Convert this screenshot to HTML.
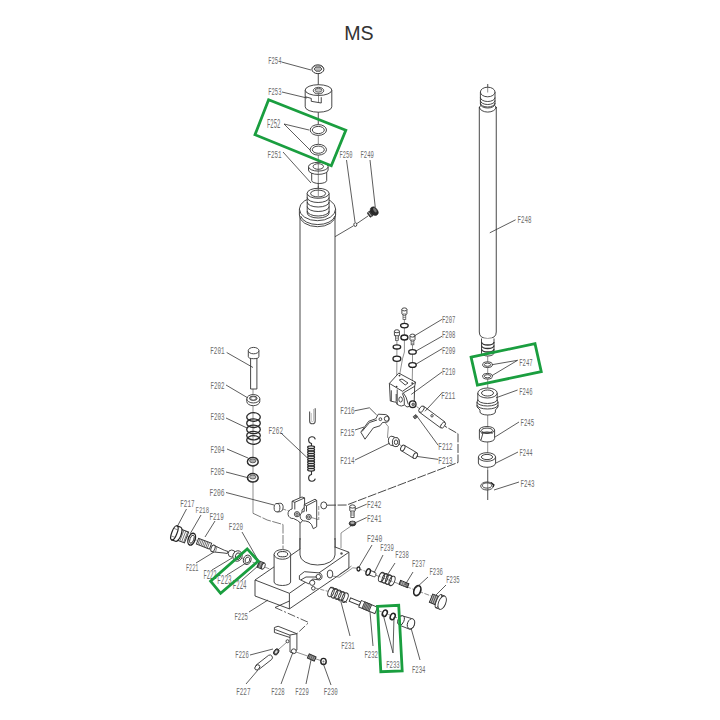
<!DOCTYPE html>
<html><head><meta charset="utf-8"><style>
html,body{margin:0;padding:0;background:#fff;}
svg{display:block;}
.lb{font-family:"Liberation Mono",monospace;fill:#6c6c6c;}
.ld{fill:none;stroke:#333;stroke-width:0.8;}
.gr{fill:none;stroke:#1a9e3f;stroke-width:2.8;stroke-linejoin:miter;}
.p{fill:#fff;stroke:#333;stroke-width:0.9;}
.pn{fill:none;stroke:#333;stroke-width:0.9;}
.th{fill:none;stroke:#444;stroke-width:0.6;}
.ds{fill:none;stroke:#333;stroke-width:0.8;stroke-dasharray:8 2 2 2;}
.ds2{fill:none;stroke:#333;stroke-width:0.9;stroke-dasharray:9 1.6;}
</style></head><body>
<svg width="720" height="720" viewBox="0 0 720 720">
<text x="344.2" y="40.3" font-size="19.6" class="ms" style="font-family:'Liberation Sans',sans-serif;fill:#333;">MS</text>
<!-- ===== center axis lines (top stack) ===== -->
<line x1="318.3" y1="70" x2="318.3" y2="200" class="th"/>
<!-- F254 nut -->
<ellipse cx="317.9" cy="69.25" rx="6" ry="4.4" fill="#fff" stroke="#333" stroke-width="1"/>
<path d="M312.6,68.2 A5.4,3 0 0 1 323.2,68.2" fill="none" stroke="#555" stroke-width="0.6"/>
<path d="M314,69 L316,67 L320,67 L322,69 L320,71.2 L316,71.2 Z" fill="#bbb" stroke="#333" stroke-width="0.8"/>
<line x1="318.3" y1="73.5" x2="318.3" y2="86" class="th"/>
<!-- F253 cylinder -->
<path d="M305.2,90.1 L305.2,106.8 A13.3,5.4 0 0 0 331.8,106.8 L331.8,90.1" class="p"/>
<ellipse cx="318.5" cy="90.1" rx="13.3" ry="5.4" class="p"/>
<ellipse cx="318.5" cy="90.6" rx="5.2" ry="3.3" class="p" stroke-width="1"/>
<ellipse cx="318.5" cy="90.3" rx="3.4" ry="1.9" fill="#ccc" stroke="#444" stroke-width="0.8"/>
<path d="M305.4,96.75 L311.25,98.4 L311.25,101.3 L321.25,103 L321.25,97.2" class="pn"/>
<line x1="318.5" y1="93" x2="318.5" y2="102.5" class="th"/>
<line x1="318.3" y1="112" x2="318.3" y2="124" class="th"/>
<!-- F252 rings -->
<ellipse cx="318.3" cy="130" rx="8.2" ry="5.4" class="p"/>
<ellipse cx="318.3" cy="130" rx="6" ry="3.6" class="pn"/>
<ellipse cx="318.3" cy="149.7" rx="8.2" ry="5.4" class="p"/>
<ellipse cx="318.3" cy="149.7" rx="6" ry="3.6" class="pn"/>
<!-- F251 bushing -->
<path d="M311.7,171 L311.7,180.5 A7.5,3 0 0 0 326.7,180.5 L326.7,171" class="p"/>
<path d="M308.5,166.7 L308.5,170 A9.8,4.4 0 0 0 328.1,170 L328.1,166.7" class="p"/>
<ellipse cx="318.3" cy="166.7" rx="9.8" ry="4.4" class="p"/>
<ellipse cx="318.3" cy="166.5" rx="5.2" ry="2.8" class="pn"/>
<line x1="318.3" y1="160" x2="318.3" y2="196" class="th"/>
<!-- ===== main column ===== -->
<path d="M300,212 L300,555 A17.5,10 0 0 0 335,555 L335,212" class="p"/>
<!-- flange -->
<path d="M299.4,209 L299.4,215 A18.1,11.7 0 0 0 335.6,215 L335.6,209" class="p"/>
<ellipse cx="317.5" cy="209" rx="18.1" ry="11.7" class="p"/>
<path d="M300.6,216 A17.5,10.5 0 0 0 335,216" class="pn"/>
<!-- threaded neck -->
<path d="M307.2,193.3 L307.2,213 A10.95,5 0 0 0 329.1,213 L329.1,193.3" class="p"/>
<path d="M307.2,197.5 A10.95,5 0 0 0 329.1,197.5" class="pn"/>
<path d="M307.2,202 A10.95,5 0 0 0 329.1,202" class="pn"/>
<path d="M307.2,206.5 A10.95,5 0 0 0 329.1,206.5" class="pn"/>
<path d="M307.2,211 A10.95,5 0 0 0 329.1,211" class="pn"/>
<ellipse cx="318.1" cy="193.3" rx="10.95" ry="5" class="p"/>
<ellipse cx="318.1" cy="193.5" rx="7.5" ry="3.4" class="pn"/>
<line x1="318.3" y1="186" x2="318.3" y2="196" class="th"/>
<!-- F250 / F249 -->
<polyline points="335,236.7 353.5,225.8" class="ld"/>
<ellipse cx="355.3" cy="224.6" rx="1.5" ry="1.9" class="p"/>
<polyline points="357,223.5 368,216" class="ld"/>
<g transform="rotate(-35 373 212)">
<rect x="367.6" y="209.3" width="4.6" height="5.6" rx="1" fill="#3a3a3a" stroke="#222" stroke-width="0.6"/>
<line x1="369.2" y1="209.6" x2="369.2" y2="214.6" stroke="#ddd" stroke-width="0.7"/>
<ellipse cx="374.6" cy="212" rx="3.2" ry="4.7" fill="#2a2a2a" stroke="#222" stroke-width="0.6"/>
<ellipse cx="375.6" cy="211.5" rx="1.3" ry="2.6" fill="#777" stroke="none"/>
</g>
<!-- ===== rod F248 ===== -->
<line x1="487.7" y1="84" x2="487.7" y2="500" class="th"/>
<path d="M479.3,107 L479.3,332 Q479.3,338.5 487.7,338.5 Q496.25,338.5 496.25,332 L496.25,107" class="p"/>
<path d="M479.3,107 A8.5,5.5 0 0 0 496.25,107" class="pn"/>
<path d="M479.3,108 A8.5,5.5 0 0 1 496.25,108" class="pn"/>
<path d="M480.4,92 L480.4,104 A7.3,4 0 0 0 495,104 L495,92" class="p"/>
<path d="M480.4,97.5 A7.3,4 0 0 0 495,97.5" class="pn"/>
<path d="M480.4,100.5 A7.3,4 0 0 0 495,100.5" class="pn"/>
<path d="M480.4,103 A7.3,4 0 0 0 495,103" class="pn"/>
<ellipse cx="487.7" cy="92" rx="7.3" ry="4.8" class="p"/>
<line x1="487.7" y1="84" x2="487.7" y2="92.5" class="th"/>
<!-- neck below rod -->
<path d="M481.5,338.5 L481.5,353 A6.25,3 0 0 0 494,353 L494,338.5" class="p"/>
<path d="M481.5,342 A6.25,3 0 0 0 494,342" fill="none" stroke="#333" stroke-width="1.3"/>
<path d="M481.5,345.5 A6.25,3 0 0 0 494,345.5" fill="none" stroke="#333" stroke-width="1.3"/>
<path d="M481.5,349 A6.25,3 0 0 0 494,349" fill="none" stroke="#333" stroke-width="1.3"/>

<!-- F247 rings -->
<ellipse cx="487.5" cy="364.7" rx="4.9" ry="2.8" class="p" stroke-width="1.2"/>
<ellipse cx="487.5" cy="364.7" rx="3.2" ry="1.6" class="pn"/>
<ellipse cx="487.5" cy="376.25" rx="4.9" ry="2.8" class="p" stroke-width="1.2"/>
<ellipse cx="487.5" cy="376.25" rx="3.2" ry="1.6" class="pn"/>
<!-- F246 -->
<path d="M477.8,393 L477.8,400 L477,402 L477,407 L480,410 L480,412 A7.7,3 0 0 0 495.4,412 L495.4,410 L498,407 L498,402 L497.2,400 L497.2,393" class="p"/>
<path d="M477,402 A10.5,4 0 0 0 498,402" class="pn"/>
<path d="M477,405 A10.5,4 0 0 0 498,405" class="pn"/>
<path d="M477.8,399.5 A9.7,4 0 0 0 497.2,399.5" class="pn"/>
<ellipse cx="487.5" cy="393" rx="9.7" ry="5" class="p"/>
<ellipse cx="487.5" cy="393" rx="6" ry="3" class="pn"/>
<!-- F245 -->
<path d="M479.4,430 L479.4,438.5 A7.6,3.5 0 0 0 494.6,438.5 L494.6,430" class="p"/>
<ellipse cx="487" cy="430" rx="7.6" ry="3.5" class="p"/>
<ellipse cx="487" cy="430.5" rx="5.6" ry="2.4" class="pn" stroke-width="0.8"/>
<path d="M481.5,433.5 A6,2.6 0 0 1 492.5,433.5" class="pn"/>
<line x1="483" y1="433" x2="481" y2="440" class="pn"/>
<!-- F244 -->
<path d="M478.4,457 L478.4,463 A8.6,4.3 0 0 0 495.6,463 L495.6,457" class="p"/>
<ellipse cx="487" cy="457" rx="8.6" ry="4.3" class="p"/>
<ellipse cx="487" cy="457" rx="5.6" ry="2.6" class="pn"/>
<!-- F243 snap ring -->
<ellipse cx="487" cy="486" rx="6.3" ry="4" class="p" stroke-width="1.6"/>
<path d="M491,482.5 L494,485 L493,487" fill="none" stroke="#222" stroke-width="1.2"/>
<ellipse cx="487" cy="485.5" rx="4.5" ry="2.6" class="pn"/>
<line x1="487.7" y1="470" x2="487.7" y2="500" class="th"/>
<!-- ===== left stack F201-F206 ===== -->
<line x1="253" y1="356" x2="253" y2="513.3" class="th"/>
<polyline points="253,513.3 267.2,520 283,524.5" fill="none" stroke="#444" stroke-width="0.7" stroke-dasharray="9 1.5"/>
<line x1="283" y1="524.5" x2="283" y2="549" stroke="#444" stroke-width="0.7" stroke-dasharray="9 1.5"/>
<!-- F201 pin -->
<path d="M250.6,357 L250.6,389 L256.9,389 L256.9,357" class="p"/>
<path d="M248.3,350.6 L248.3,356.5 A5.3,2.2 0 0 0 258.9,356.5 L258.9,350.6" class="p"/>
<ellipse cx="253.6" cy="350.6" rx="5.3" ry="3.2" class="p"/>
<!-- F202 washer -->
<path d="M246.8,398.75 L246.8,401.5 A6.5,4.2 0 0 0 259.8,401.5 L259.8,398.75" class="p"/>
<ellipse cx="253.3" cy="398.75" rx="6.5" ry="4.2" class="p"/>
<ellipse cx="253.3" cy="398.3" rx="3.8" ry="2.2" fill="#999" stroke="#333" stroke-width="0.8"/>
<ellipse cx="253.3" cy="398.3" rx="2" ry="1.1" fill="#fff" stroke="none"/>
<!-- F203 spring -->
<g fill="none" stroke="#2a2a2a" stroke-width="1.3">
<ellipse cx="253.5" cy="417" rx="6.8" ry="4.3"/>
<ellipse cx="253.5" cy="423.2" rx="6.8" ry="4.3"/>
<ellipse cx="253.5" cy="429.4" rx="6.8" ry="4.3"/>
<ellipse cx="253.5" cy="435.6" rx="6.8" ry="4.3"/>
<ellipse cx="253.5" cy="440" rx="6.8" ry="4.3"/>
</g>
<!-- F204/F205 nuts -->
<ellipse cx="252.8" cy="461.7" rx="5.4" ry="4.3" fill="#fff" stroke="#2a2a2a" stroke-width="1.4"/>
<ellipse cx="252.8" cy="460.8" rx="3.2" ry="2" fill="#aaa" stroke="#333" stroke-width="0.7"/>
<path d="M247.6,462.5 A5.2,3 0 0 0 258,462.5" fill="none" stroke="#333" stroke-width="0.7"/>
<ellipse cx="252.8" cy="477.8" rx="5.4" ry="4.3" fill="#fff" stroke="#2a2a2a" stroke-width="1.4"/>
<ellipse cx="252.8" cy="477" rx="3.2" ry="2" fill="#bbb" stroke="#333" stroke-width="0.7"/>
<path d="M247.6,478.6 A5.2,3 0 0 0 258,478.6" fill="none" stroke="#333" stroke-width="0.7"/>
<!-- F206 -->
<path d="M276.5,503.6 L279.5,503.3 A3.2,4.2 0 0 1 280.5,511.6 L277.5,512 Z" class="p"/>
<ellipse cx="277" cy="507.7" rx="2.9" ry="4.2" class="p" stroke-width="1"/>
<line x1="283.3" y1="509.2" x2="290" y2="511.25" class="th" stroke-dasharray="3 1.5"/>
<!-- ===== F262 spring & hairpin ===== -->
<path d="M309.6,411.5 L309.6,421 A2.8,2.8 0 0 0 315.2,421 L315.2,408.2" fill="none" stroke="#555" stroke-width="1.1"/>
<path d="M311.3,413 L311.3,420.5 A1.1,1.1 0 0 0 313.5,420.5 L313.5,409" fill="none" stroke="#999" stroke-width="0.6"/>
<path d="M311.5,446 L311.5,443.5 A3.4,3.4 0 1 1 315.3,439.3" fill="none" stroke="#333" stroke-width="1.1"/>
<path d="M311.5,471 L311.5,474.5 A3.4,3.4 0 1 0 315.3,478.7" fill="none" stroke="#333" stroke-width="1.1"/>
<g fill="none" stroke="#2a2a2a" stroke-width="1.15">
<ellipse cx="311.1" cy="447.3" rx="3.5" ry="1.4"/>
<ellipse cx="311.1" cy="449.8" rx="3.5" ry="1.4"/>
<ellipse cx="311.1" cy="452.3" rx="3.5" ry="1.4"/>
<ellipse cx="311.1" cy="454.8" rx="3.5" ry="1.4"/>
<ellipse cx="311.1" cy="457.3" rx="3.5" ry="1.4"/>
<ellipse cx="311.1" cy="459.8" rx="3.5" ry="1.4"/>
<ellipse cx="311.1" cy="462.3" rx="3.5" ry="1.4"/>
<ellipse cx="311.1" cy="464.8" rx="3.5" ry="1.4"/>
<ellipse cx="311.1" cy="467.3" rx="3.5" ry="1.4"/>
<ellipse cx="311.1" cy="469.8" rx="3.5" ry="1.4"/>
</g>
<!-- ===== bracket F242 on column ===== -->
<g class="p" stroke-width="0.85">
<path d="M292.1,501.25 L302,497 L304.6,497.9 L304.6,507 L302,510 L302,516 L303.5,519.5 L300.5,523 L297.5,520.5 L293.5,518.5 A4.5,4.5 0 0 1 292.1,509 Z"/>
<path d="M292.1,501.25 L294.8,502.3 L304.6,497.9 M294.8,502.3 L294.8,509.5" fill="none"/>
<circle cx="297" cy="514.2" r="2.6"/>
<circle cx="297" cy="514.2" r="1.2" fill="none"/>
<path d="M304.2,504.6 L315,499.2 L316.7,500.4 L316.7,526.7 L313.3,528.75 L311.5,524.5 L309,522 L305.5,521 A4.5,4.5 0 0 1 304.2,511.5 Z"/>
<path d="M304.2,504.6 L306.5,505.8 L316.7,500.4 M306.5,505.8 L306.5,511.5" fill="none"/>
<circle cx="308.75" cy="517" r="2.6"/>
<circle cx="308.75" cy="517" r="1.2" fill="none"/>
</g>
<line x1="311.5" y1="517.5" x2="318" y2="519.5" class="th"/>
<polyline points="318.75,506 318.75,520" class="th" stroke-dasharray="4 1.5"/>
<ellipse cx="323.75" cy="505.4" rx="3" ry="3.5" class="p" stroke-width="1.1"/>
<polyline points="327,505.2 346.7,505 458,462.5 458,433.75 444.5,426" class="ds2"/>
<!-- ===== base block ===== -->
<path d="M255,580 L300.6,548.6 L335,547 L348.9,552.2 L348.9,568.3 L289.4,608.9 L255,596 Z" class="p"/>
<polyline points="255,580 289.4,593.3 348.9,552.2" class="pn"/>
<line x1="289.4" y1="593.3" x2="289.4" y2="608.9" class="pn"/>
<!-- column bottom redraw over block -->
<rect x="300.5" y="540" width="34" height="16" fill="#fff"/>
<path d="M300,538 L300,555 A17.5,10 0 0 0 335,555 L335,538" class="pn"/>
<circle cx="341.5" cy="553.5" r="1.2" fill="#555"/>
<!-- F241 line down -->
<polyline points="352.5,525 341,533 341,548" class="th"/>
<!-- bushing on block -->
<path d="M274.1,554.4 L274.1,582 A8.25,3.5 0 0 0 290.6,582 L290.6,554.4" class="p"/>
<ellipse cx="282.4" cy="554.4" rx="8.3" ry="4.85" class="p"/>
<ellipse cx="282.6" cy="554.2" rx="5.1" ry="2.65" fill="none" stroke="#333" stroke-width="1"/>
<!-- hole on right face -->
<ellipse cx="330" cy="574" rx="2.8" ry="4" class="p"/>
<polyline points="332.8,576.1 339.4,577.2 352.8,567.8 357.8,568.3" class="th"/>
<polyline points="339.4,574.5 351.5,566" class="th"/>
<!-- lever on block -->
<g class="p" stroke-width="0.85">
<path d="M299.4,575.6 L304.4,571.7 L318.3,572.8 A3.8,3.8 0 0 1 320,580 L312.5,579 L308.9,583.9 L299.4,579.4 Z"/>
<circle cx="318.3" cy="576.7" r="2.3"/>
<circle cx="312.2" cy="582.8" r="2.6"/>
<circle cx="313.3" cy="588.3" r="1.8"/>
</g>
<polyline points="301,579.8 306,577 317,577" class="pn" stroke-width="0.6"/>
<!-- F231 spring + axis -->
<line x1="315" y1="588" x2="328" y2="591.3" class="th" stroke-dasharray="4 1.5"/>
<g class="pn" stroke-width="1">
<ellipse cx="331" cy="592" rx="2.8" ry="5" transform="rotate(22 331 592)"/>
<ellipse cx="334.5" cy="593.4" rx="2.8" ry="5" transform="rotate(22 334.5 593.4)"/>
<ellipse cx="338" cy="594.8" rx="2.8" ry="5" transform="rotate(22 338 594.8)"/>
<ellipse cx="341.5" cy="596.2" rx="2.8" ry="5" transform="rotate(22 341.5 596.2)"/>
<ellipse cx="345" cy="597.6" rx="2.8" ry="5" transform="rotate(22 345 597.6)"/>
</g>
<polyline points="330,587.2 344,592.8" class="pn" stroke-width="0.6"/>
<polyline points="333,597 347,602.4" class="pn" stroke-width="0.6"/>
<!-- F232 shaft -->
<g transform="rotate(22.5 349.9 599.5)">
<rect x="349.9" y="597.7" width="11" height="3.6" class="p"/>
<rect x="360.9" y="596" width="17.5" height="7" class="p"/>
<rect x="364.5" y="596" width="7.5" height="7" fill="#aaa" stroke="#333" stroke-width="0.8"/>
<line x1="366" y1="596" x2="366" y2="603" stroke="#333" stroke-width="0.6"/>
<line x1="367.5" y1="596" x2="367.5" y2="603" stroke="#333" stroke-width="0.6"/>
<line x1="369" y1="596" x2="369" y2="603" stroke="#333" stroke-width="0.6"/>
<line x1="370.5" y1="596" x2="370.5" y2="603" stroke="#333" stroke-width="0.6"/>
</g>
<line x1="378" y1="610.5" x2="403" y2="620" class="th" stroke-dasharray="4 1.5"/>
<!-- F233 rings -->
<ellipse cx="384.8" cy="613.2" rx="2.3" ry="3.3" fill="#fff" stroke="#222" stroke-width="1.5" transform="rotate(25 384.8 613.2)"/>
<ellipse cx="392.7" cy="616.5" rx="2.3" ry="3.3" fill="#fff" stroke="#222" stroke-width="1.5" transform="rotate(25 392.7 616.5)"/>
<!-- F234 cap -->
<path d="M401,615.5 L411.5,618.5 A4,5.5 0 0 1 409,629 L399,625 Z" class="p" />
<ellipse cx="401" cy="620.3" rx="3" ry="4.8" class="p" transform="rotate(20 401 620.3)"/>
<ellipse cx="411" cy="623.8" rx="3.5" ry="5.3" class="p" transform="rotate(20 411 623.8)"/>
<!-- right upper valve axis F240-F235 -->
<line x1="357.5" y1="568.3" x2="432" y2="596.3" class="th" stroke-dasharray="5 1.5"/>
<ellipse cx="358.5" cy="569" rx="1.5" ry="2" fill="#fff" stroke="#222" stroke-width="1.3"/>
<!-- F239 valve -->
<path d="M369,570 L375,572.2 A1.6,2.4 0 0 1 373.5,576.6 L368,574.5 Z" class="p"/>
<ellipse cx="368.2" cy="572" rx="2" ry="3.4" fill="#fff" stroke="#222" stroke-width="1.4" transform="rotate(20 368.2 572)"/>
<!-- F238 spring -->
<g class="pn" stroke-width="1">
<ellipse cx="381.5" cy="577" rx="2.6" ry="5" transform="rotate(22 381.5 577)"/>
<ellipse cx="385" cy="578.3" rx="2.6" ry="5" transform="rotate(22 385 578.3)"/>
<ellipse cx="388.5" cy="579.6" rx="2.6" ry="5" transform="rotate(22 388.5 579.6)"/>
<ellipse cx="392" cy="580.9" rx="2.6" ry="5" transform="rotate(22 392 580.9)"/>
</g>
<polyline points="381,572.5 393,576.5" class="pn" stroke-width="0.6"/>
<polyline points="380,581.5 391,585.5" class="pn" stroke-width="0.6"/>
<!-- F237 small spring -->
<g transform="rotate(22 404 584)">
<rect x="399.5" y="582" width="9" height="4" fill="#777" stroke="#222" stroke-width="0.9"/>
<line x1="401.5" y1="582" x2="401.5" y2="586" stroke="#ddd" stroke-width="0.5"/>
<line x1="403.5" y1="582" x2="403.5" y2="586" stroke="#ddd" stroke-width="0.5"/>
<line x1="405.5" y1="582" x2="405.5" y2="586" stroke="#ddd" stroke-width="0.5"/>
</g>
<!-- F236 washer -->
<ellipse cx="417.3" cy="590.6" rx="3.3" ry="5.2" fill="#fff" stroke="#222" stroke-width="1.7" transform="rotate(20 417.3 590.6)"/>

<!-- F235 plug -->
<g transform="rotate(22 438 601)">
<rect x="430.5" y="596.5" width="8" height="9" fill="#bbb" stroke="#222" stroke-width="0.9"/>
<line x1="432.3" y1="596.5" x2="432.3" y2="605.5" stroke="#333" stroke-width="0.7"/>
<line x1="434.2" y1="596.5" x2="434.2" y2="605.5" stroke="#333" stroke-width="0.7"/>
<line x1="436.1" y1="596.5" x2="436.1" y2="605.5" stroke="#333" stroke-width="0.7"/>
<path d="M438.5,594 L442.5,594 L442.5,608 L438.5,608 Z" class="p" stroke-width="0.9"/>
<ellipse cx="438.5" cy="601" rx="2" ry="7" class="p" stroke-width="0.9"/>
<ellipse cx="442.5" cy="601" rx="3.6" ry="7" class="p" stroke-width="1"/>
</g>
<!-- ===== left valve group F217-F224 ===== -->
<line x1="186" y1="536" x2="271" y2="569.5" class="th" stroke-dasharray="5 1.5"/>
<g transform="translate(1,2) rotate(21 179 533)">
<rect x="177" y="527.2" width="9" height="11.6" fill="#fff" stroke="#333" stroke-width="1"/>
<line x1="179" y1="527.2" x2="179" y2="538.8" stroke="#555" stroke-width="0.7"/>
<line x1="181" y1="527.2" x2="181" y2="538.8" stroke="#555" stroke-width="0.7"/>
<line x1="183" y1="527.2" x2="183" y2="538.8" stroke="#555" stroke-width="0.7"/>
<line x1="185" y1="527.2" x2="185" y2="538.8" stroke="#555" stroke-width="0.7"/>
<path d="M173,525.5 L177,525.5 A3,7.5 0 0 1 177,540.5 L173,540.5 Z" fill="#fff" stroke="#222" stroke-width="1.2"/>
<ellipse cx="173" cy="533" rx="2.6" ry="7.5" fill="#fff" stroke="#222" stroke-width="1.2"/>
<line x1="171" y1="529" x2="175.5" y2="529" stroke="#555" stroke-width="0.6"/>
<line x1="171" y1="537" x2="175.5" y2="537" stroke="#555" stroke-width="0.6"/>
</g>
<ellipse cx="191.7" cy="539.2" rx="3.4" ry="6.2" fill="#fff" stroke="#222" stroke-width="1.4" transform="rotate(20 191.7 539.2)"/>
<ellipse cx="191.9" cy="539.2" rx="1.9" ry="4.3" class="pn" stroke-width="0.7" transform="rotate(20 191.9 539.2)"/>
<g transform="rotate(21 204 543.7)">
<rect x="197" y="540.6" width="14" height="6.2" fill="#fff" stroke="#333" stroke-width="0.9"/>
<line x1="198.5" y1="540.6" x2="198.5" y2="546.8" stroke="#444" stroke-width="0.7"/>
<line x1="200.2" y1="540.6" x2="200.2" y2="546.8" stroke="#444" stroke-width="0.7"/>
<line x1="201.9" y1="540.6" x2="201.9" y2="546.8" stroke="#444" stroke-width="0.7"/>
<line x1="203.6" y1="540.6" x2="203.6" y2="546.8" stroke="#444" stroke-width="0.7"/>
<line x1="205.3" y1="540.6" x2="205.3" y2="546.8" stroke="#444" stroke-width="0.7"/>
<line x1="207" y1="540.6" x2="207" y2="546.8" stroke="#444" stroke-width="0.7"/>
<line x1="208.7" y1="540.6" x2="208.7" y2="546.8" stroke="#444" stroke-width="0.7"/>
</g>
<!-- F221 valve -->
<path d="M213,545 L224.5,550.3 L228,551.5 L227.3,553.5 L224,553 L212,551.8 Z" class="p" stroke-width="0.85"/>
<ellipse cx="213" cy="548.4" rx="1.9" ry="3.5" class="p" stroke-width="1" transform="rotate(22 213 548.4)"/>
<line x1="217" y1="546.5" x2="215.5" y2="552" class="th"/>
<!-- F222 -->
<circle cx="231.7" cy="553.5" r="3.5" class="p"/>
<ellipse cx="237.5" cy="556" rx="4.6" ry="5.3" class="p" transform="rotate(20 237.5 556)"/>
<ellipse cx="238" cy="556.2" rx="2.6" ry="3.4" class="pn" transform="rotate(20 238 556.2)"/>
<!-- F223 -->
<ellipse cx="247.2" cy="559.8" rx="3.8" ry="4.8" class="p" stroke-width="1.1" transform="rotate(20 247.2 559.8)"/>
<ellipse cx="247.4" cy="560" rx="2.2" ry="3" class="pn" transform="rotate(20 247.4 560)"/>
<!-- F224 nut -->
<g transform="rotate(22 260.8 565.1)">
<rect x="258" y="561.8" width="5.6" height="6.6" fill="#666" stroke="#222" stroke-width="0.8"/>
<line x1="260.2" y1="561.8" x2="260.2" y2="568.4" stroke="#ddd" stroke-width="0.5"/>
<ellipse cx="263.6" cy="565.1" rx="1.5" ry="3.3" fill="#fff" stroke="#222" stroke-width="0.8"/>
</g>
<!-- ===== lower bracket F226-F230 ===== -->
<polyline points="289.4,601 275,607.5" class="pn"/>
<polyline points="275,607.5 308.75,622.5 296.9,633.75" class="ds"/>
<path d="M274.4,627.5 L278.1,626.25 L296.9,633.75 L296.9,650 L293,653 L290,652 L290,637.5 L276,633 L274.4,632.5 Z" class="p"/>
<polyline points="275.2,629.5 290,635.2 290,637.5" class="pn" stroke-width="0.7"/>
<line x1="290" y1="635" x2="296.9" y2="633.75" class="pn" stroke-width="0.7"/>
<circle cx="287.5" cy="641.25" r="1.5" class="pn" stroke-width="0.7"/>
<circle cx="293.75" cy="651.25" r="2.4" class="p" stroke-width="0.9"/>
<line x1="279" y1="649" x2="287" y2="642" class="th"/>
<ellipse cx="276.25" cy="651.9" rx="2.3" ry="3.4" fill="#555" stroke="#222" stroke-width="0.8" transform="rotate(35 276.25 651.9)"/>
<ellipse cx="276.25" cy="651.9" rx="1" ry="1.8" fill="#ddd" stroke="none" transform="rotate(35 276.25 651.9)"/>
<!-- F227 pin -->
<path d="M255.8,665.3 L268.6,655.3 A2.6,2.6 0 0 1 271.6,659.5 L258.8,669.5 Z" class="p"/>
<ellipse cx="257.3" cy="667.4" rx="2.1" ry="2.9" class="p" transform="rotate(40 257.3 667.4)"/>
<!-- F229 screw & F230 nut -->
<line x1="296" y1="652" x2="322" y2="661" class="th"/>
<g transform="rotate(24 311.7 657.5)">
<rect x="308" y="655.2" width="7.5" height="4.6" fill="#999" stroke="#222" stroke-width="0.9"/>
<line x1="309.5" y1="654.8" x2="309.5" y2="660.2" class="th"/>
<line x1="311.5" y1="654.8" x2="311.5" y2="660.2" class="th"/>
<line x1="313.5" y1="654.8" x2="313.5" y2="660.2" class="th"/>
</g>
<ellipse cx="323.5" cy="661.5" rx="2.7" ry="3.1" fill="#fff" stroke="#222" stroke-width="1.4"/>
<circle cx="323.5" cy="661.5" r="1" fill="#777"/>
<!-- F242 bolt, F241 nut -->
<path d="M349.8,506.5 L349.8,510.5 A2.7,1.2 0 0 0 355.2,510.5 L355.2,506.5" class="p"/>
<ellipse cx="352.5" cy="506.5" rx="2.7" ry="1.6" class="p"/>
<rect x="350.9" y="511" width="3.2" height="6.5" fill="#fff" stroke="#333" stroke-width="0.8"/>
<line x1="351" y1="513" x2="354" y2="513" class="th"/>
<line x1="351" y1="515" x2="354" y2="515" class="th"/>
<ellipse cx="352.5" cy="523.5" rx="3.3" ry="2.4" fill="#444" stroke="#222" stroke-width="0.8"/>
<ellipse cx="352.5" cy="522.8" rx="2.2" ry="1.2" fill="#aaa" stroke="none"/>
<!-- ===== F207-F210 stacks ===== -->
<polyline points="404.4,340 404.4,352 402.5,358.75 399.5,375.6" class="th"/>
<line x1="396.9" y1="361" x2="396.6" y2="386.6" class="th"/>
<line x1="412.5" y1="367.5" x2="412.2" y2="383.1" class="th"/>
<line x1="404.4" y1="319" x2="404.4" y2="337" class="th"/>
<line x1="396.9" y1="340" x2="396.9" y2="358" class="th"/>
<line x1="412.5" y1="344" x2="412.5" y2="365" class="th"/>
<!-- bolts -->
<g>
<path d="M401.9,309.4 L401.9,313.7 A2.5,1.2 0 0 0 406.9,313.7 L406.9,309.4" class="p"/>
<ellipse cx="404.4" cy="309.4" rx="2.5" ry="1.5" class="p"/>
<rect x="403" y="314" width="2.8" height="5.4" fill="#fff" stroke="#444" stroke-width="0.7"/>
<line x1="403" y1="315.5" x2="405.8" y2="315.5" class="th"/><line x1="403" y1="317.3" x2="405.8" y2="317.3" class="th"/>
</g>
<g>
<path d="M394.4,331.25 L394.4,335.3 A2.5,1.2 0 0 0 399.4,335.3 L399.4,331.25" class="p"/>
<ellipse cx="396.9" cy="331.25" rx="2.5" ry="1.5" class="p"/>
<rect x="395.5" y="335.6" width="2.8" height="4.8" fill="#fff" stroke="#444" stroke-width="0.7"/>
<line x1="395.5" y1="337" x2="398.3" y2="337" class="th"/><line x1="395.5" y1="338.8" x2="398.3" y2="338.8" class="th"/>
</g>
<g>
<path d="M410,335.6 L410,339.6 A2.5,1.2 0 0 0 415,339.6 L415,335.6" class="p"/>
<ellipse cx="412.5" cy="335.6" rx="2.5" ry="1.5" class="p"/>
<rect x="411.1" y="340" width="2.8" height="4.8" fill="#fff" stroke="#444" stroke-width="0.7"/>
<line x1="411.1" y1="341.4" x2="413.9" y2="341.4" class="th"/><line x1="411.1" y1="343.2" x2="413.9" y2="343.2" class="th"/>
</g>
<!-- rings -->
<g fill="#fff" stroke="#222" stroke-width="1.35">
<ellipse cx="404.4" cy="325.6" rx="3.75" ry="2.2"/>
<ellipse cx="404.4" cy="337.5" rx="3.5" ry="2.5"/>
<ellipse cx="396.9" cy="346.9" rx="3.75" ry="2.1"/>
<ellipse cx="396.9" cy="358.75" rx="3.9" ry="2.6"/>
<ellipse cx="412.5" cy="351.9" rx="3.75" ry="2.2"/>
<ellipse cx="412.5" cy="365" rx="3.75" ry="2.4"/>
</g>

<!-- ===== F210 block ===== -->
<path d="M389.4,383.4 L398.75,373.1 L415.6,382.2 L414.7,386 L414.2,401.5 L411,403 L409,406.5 L407,407 L404.5,405 L401.5,406 L399.6,405.6 L397.2,404.4 L396,402 L394.7,402 L390.3,401 Z" class="p"/>
<polyline points="389.4,383.4 402.5,391.3 415.6,382.2" class="pn"/>
<polyline points="403.5,392.8 414.9,386.2" class="pn" stroke-width="0.7"/>
<line x1="391.3" y1="390.3" x2="391.3" y2="401" class="pn" stroke-width="0.7"/>
<line x1="396.2" y1="394" x2="396.2" y2="401.5" class="pn" stroke-width="0.7"/>
<line x1="397.2" y1="389.5" x2="397.2" y2="404.4" class="pn" stroke-width="0.8"/>
<ellipse cx="400.6" cy="399.5" rx="1.8" ry="2.6" class="pn" stroke-width="0.7"/>
<path d="M403,392.5 Q406.5,396 408.3,404.4" class="pn" stroke-width="0.8"/>
<path d="M402.3,393.3 Q405.2,398 404.3,404.8" class="pn" stroke-width="0.6"/>
<polygon points="399.3,380 402,379 408,383 405.2,385" class="pn" stroke-width="0.7"/>
<circle cx="399.5" cy="375.6" r="0.9" fill="#333"/>
<circle cx="396.6" cy="386.6" r="0.9" fill="#333"/>
<circle cx="412.2" cy="383.1" r="0.9" fill="#333"/>
<circle cx="412.7" cy="404.2" r="3.3" fill="#fff" stroke="#222" stroke-width="1.3"/>
<circle cx="413.2" cy="404.4" r="1.4" fill="#888" stroke="#333" stroke-width="0.6"/>
<!-- F211 pin -->
<path d="M419.4,412.2 L423.6,406.2 L445,422 L440.8,428 Z" class="p"/>
<ellipse cx="421.5" cy="409.2" rx="2.1" ry="3.6" class="p" transform="rotate(36 421.5 409.2)"/>
<ellipse cx="443" cy="425.1" rx="1.8" ry="3.4" class="p" transform="rotate(36 443 425.1)"/>
<circle cx="432" cy="415.8" r="1.2" class="pn" stroke-width="0.6"/>
<line x1="416.5" y1="406.5" x2="420" y2="409" class="th"/>
<!-- F212 set screw -->
<g transform="rotate(-40 415.3 416.8)">
<rect x="413.6" y="415.3" width="3.6" height="3" fill="#555" stroke="#222" stroke-width="0.5"/>
<line x1="414.8" y1="415.3" x2="414.8" y2="418.3" stroke="#ccc" stroke-width="0.4"/>
</g>
<!-- F213 pin -->
<path d="M401,450.5 L404.6,445.5 L417.3,453 L413.5,458.2 Z" class="p"/>
<ellipse cx="402.8" cy="448" rx="1.9" ry="3.1" class="p" transform="rotate(30 402.8 448)"/>
<ellipse cx="415.3" cy="455.7" rx="1.9" ry="3.1" class="p" transform="rotate(30 415.3 455.7)"/>
<!-- F215 lever -->
<path d="M360.8,432.1 L368.75,421.25 L375.8,418.75 L378.3,414.2 L385.8,414.6 A4.3,4.3 0 0 1 387.5,422.1 L382.5,422.5 L380,425.8 L373.3,427.9 L365,439.2 Z" class="p"/>
<polyline points="362,431.5 369.5,422.5 377,420" class="pn" stroke-width="0.6"/>
<circle cx="386.7" cy="418.75" r="2.4" class="pn" stroke-width="0.8"/>
<circle cx="380.4" cy="419.2" r="1.4" class="pn" stroke-width="0.7"/>
<polyline points="385,422.5 388.3,426.7 387.5,437.5 389.5,439" class="th"/>
<!-- F214 roller -->
<path d="M391.7,436.3 L395.8,437.6 A3.5,4.5 0 0 1 395.8,446.6 L391.7,445.3 Z" class="p"/>
<ellipse cx="391.7" cy="440.8" rx="3.3" ry="4.5" class="p"/>
<ellipse cx="395.8" cy="442.1" rx="3.4" ry="4.5" class="p" stroke-width="1.1"/>
<ellipse cx="396" cy="442.2" rx="1.7" ry="2.3" class="pn" stroke-width="0.7"/>
<line x1="399" y1="444" x2="402" y2="446.5" class="th"/>

<text x="268.25" y="64.00" font-size="10.85" textLength="13.24" lengthAdjust="spacingAndGlyphs" class="lb">F254</text>
<text x="268.25" y="95.00" font-size="11.63" textLength="13.24" lengthAdjust="spacingAndGlyphs" class="lb">F253</text>
<text x="266.99" y="127.80" font-size="12.09" textLength="13.51" lengthAdjust="spacingAndGlyphs" class="lb">F252</text>
<text x="267.47" y="157.50" font-size="10.39" textLength="14.05" lengthAdjust="spacingAndGlyphs" class="lb">F251</text>
<text x="339.51" y="158.30" font-size="10.23" textLength="12.97" lengthAdjust="spacingAndGlyphs" class="lb">F250</text>
<text x="360.49" y="158.30" font-size="10.23" textLength="13.51" lengthAdjust="spacingAndGlyphs" class="lb">F249</text>
<text x="517.47" y="223.30" font-size="11.32" textLength="14.05" lengthAdjust="spacingAndGlyphs" class="lb">F248</text>
<text x="519.19" y="365.80" font-size="11.78" textLength="13.51" lengthAdjust="spacingAndGlyphs" class="lb">F247</text>
<text x="519.20" y="395.00" font-size="10.85" textLength="13.30" lengthAdjust="spacingAndGlyphs" class="lb">F246</text>
<text x="520.49" y="425.50" font-size="10.85" textLength="13.62" lengthAdjust="spacingAndGlyphs" class="lb">F245</text>
<text x="519.51" y="455.60" font-size="10.85" textLength="12.97" lengthAdjust="spacingAndGlyphs" class="lb">F244</text>
<text x="520.47" y="487.00" font-size="10.85" textLength="14.05" lengthAdjust="spacingAndGlyphs" class="lb">F243</text>
<text x="441.99" y="322.50" font-size="11.63" textLength="13.51" lengthAdjust="spacingAndGlyphs" class="lb">F207</text>
<text x="441.99" y="338.10" font-size="11.63" textLength="13.51" lengthAdjust="spacingAndGlyphs" class="lb">F208</text>
<text x="441.99" y="353.75" font-size="11.63" textLength="13.51" lengthAdjust="spacingAndGlyphs" class="lb">F209</text>
<text x="441.99" y="374.50" font-size="11.63" textLength="13.51" lengthAdjust="spacingAndGlyphs" class="lb">F210</text>
<text x="441.16" y="398.75" font-size="10.78" textLength="14.27" lengthAdjust="spacingAndGlyphs" class="lb">F211</text>
<text x="438.37" y="450.00" font-size="11.63" textLength="14.16" lengthAdjust="spacingAndGlyphs" class="lb">F212</text>
<text x="438.37" y="463.50" font-size="11.63" textLength="14.16" lengthAdjust="spacingAndGlyphs" class="lb">F213</text>
<text x="340.26" y="414.20" font-size="11.63" textLength="14.49" lengthAdjust="spacingAndGlyphs" class="lb">F216</text>
<text x="340.26" y="435.80" font-size="11.63" textLength="14.27" lengthAdjust="spacingAndGlyphs" class="lb">F215</text>
<text x="340.26" y="464.20" font-size="11.63" textLength="14.27" lengthAdjust="spacingAndGlyphs" class="lb">F214</text>
<text x="210.26" y="354.20" font-size="11.63" textLength="14.27" lengthAdjust="spacingAndGlyphs" class="lb">F201</text>
<text x="210.47" y="389.20" font-size="10.39" textLength="14.05" lengthAdjust="spacingAndGlyphs" class="lb">F202</text>
<text x="210.47" y="420.00" font-size="11.63" textLength="14.05" lengthAdjust="spacingAndGlyphs" class="lb">F203</text>
<text x="210.47" y="452.50" font-size="11.63" textLength="14.05" lengthAdjust="spacingAndGlyphs" class="lb">F204</text>
<text x="210.47" y="475.00" font-size="11.63" textLength="14.05" lengthAdjust="spacingAndGlyphs" class="lb">F205</text>
<text x="209.43" y="495.80" font-size="10.54" textLength="15.14" lengthAdjust="spacingAndGlyphs" class="lb">F206</text>
<text x="268.45" y="434.00" font-size="10.08" textLength="14.59" lengthAdjust="spacingAndGlyphs" class="lb">F262</text>
<text x="366.96" y="508.30" font-size="10.23" textLength="14.38" lengthAdjust="spacingAndGlyphs" class="lb">F242</text>
<text x="366.95" y="521.70" font-size="10.39" textLength="14.59" lengthAdjust="spacingAndGlyphs" class="lb">F241</text>
<text x="366.92" y="541.70" font-size="10.39" textLength="15.35" lengthAdjust="spacingAndGlyphs" class="lb">F240</text>
<text x="380.29" y="550.80" font-size="10.23" textLength="13.51" lengthAdjust="spacingAndGlyphs" class="lb">F239</text>
<text x="395.29" y="557.50" font-size="10.39" textLength="13.51" lengthAdjust="spacingAndGlyphs" class="lb">F238</text>
<text x="411.99" y="566.70" font-size="10.39" textLength="13.51" lengthAdjust="spacingAndGlyphs" class="lb">F237</text>
<text x="429.49" y="575.00" font-size="11.63" textLength="13.51" lengthAdjust="spacingAndGlyphs" class="lb">F236</text>
<text x="446.19" y="582.50" font-size="11.63" textLength="13.51" lengthAdjust="spacingAndGlyphs" class="lb">F235</text>
<text x="180.26" y="507.40" font-size="10.85" textLength="14.27" lengthAdjust="spacingAndGlyphs" class="lb">F217</text>
<text x="195.49" y="513.00" font-size="9.77" textLength="13.62" lengthAdjust="spacingAndGlyphs" class="lb">F218</text>
<text x="209.46" y="520.00" font-size="10.85" textLength="14.27" lengthAdjust="spacingAndGlyphs" class="lb">F219</text>
<text x="228.87" y="530.00" font-size="10.39" textLength="14.16" lengthAdjust="spacingAndGlyphs" class="lb">F220</text>
<text x="185.93" y="571.40" font-size="11.01" textLength="12.54" lengthAdjust="spacingAndGlyphs" class="lb">F221</text>
<text x="203.41" y="578.90" font-size="12.25" textLength="13.08" lengthAdjust="spacingAndGlyphs" class="lb">F222</text>
<text x="217.26" y="584.40" font-size="11.94" textLength="14.27" lengthAdjust="spacingAndGlyphs" class="lb">F223</text>
<text x="232.79" y="589.00" font-size="12.40" textLength="13.73" lengthAdjust="spacingAndGlyphs" class="lb">F224</text>
<text x="234.49" y="620.00" font-size="10.39" textLength="13.51" lengthAdjust="spacingAndGlyphs" class="lb">F225</text>
<text x="235.29" y="658.30" font-size="10.23" textLength="13.51" lengthAdjust="spacingAndGlyphs" class="lb">F226</text>
<text x="236.16" y="695.00" font-size="10.39" textLength="14.38" lengthAdjust="spacingAndGlyphs" class="lb">F227</text>
<text x="271.19" y="695.00" font-size="10.85" textLength="13.51" lengthAdjust="spacingAndGlyphs" class="lb">F228</text>
<text x="295.29" y="695.00" font-size="10.85" textLength="13.51" lengthAdjust="spacingAndGlyphs" class="lb">F229</text>
<text x="323.67" y="695.00" font-size="10.39" textLength="14.05" lengthAdjust="spacingAndGlyphs" class="lb">F230</text>
<text x="341.19" y="649.20" font-size="10.39" textLength="13.51" lengthAdjust="spacingAndGlyphs" class="lb">F231</text>
<text x="364.49" y="658.30" font-size="11.63" textLength="13.51" lengthAdjust="spacingAndGlyphs" class="lb">F232</text>
<text x="386.19" y="667.50" font-size="11.63" textLength="13.51" lengthAdjust="spacingAndGlyphs" class="lb">F233</text>
<text x="411.99" y="673.30" font-size="10.23" textLength="13.51" lengthAdjust="spacingAndGlyphs" class="lb">F234</text>
<polyline points="281.50,62.00 311.00,70.00" class="ld"/>
<polyline points="282.00,92.00 307.00,98.00" class="ld"/>
<polyline points="284.00,124.00 309.00,130.00" class="ld"/>
<polyline points="284.00,124.00 310.00,150.00" class="ld"/>
<polyline points="283.00,152.00 311.00,183.00" class="ld"/>
<polyline points="346.50,160.00 355.00,222.00" class="ld"/>
<polyline points="370.00,160.00 375.30,207.50" class="ld"/>
<polyline points="515.60,219.80 489.80,232.80" class="ld"/>
<polyline points="517.60,360.30 492.00,364.70" class="ld"/>
<polyline points="517.60,360.30 492.00,375.60" class="ld"/>
<polyline points="517.60,390.00 496.00,397.80" class="ld"/>
<polyline points="519.00,422.00 495.00,437.00" class="ld"/>
<polyline points="518.00,452.00 496.00,463.00" class="ld"/>
<polyline points="519.00,482.00 494.00,490.00" class="ld"/>
<polyline points="441.90,319.40 413.75,336.25" class="ld"/>
<polyline points="442.00,336.25 415.60,351.25" class="ld"/>
<polyline points="442.00,348.75 415.60,364.40" class="ld"/>
<polyline points="442.00,372.00 411.25,394.40" class="ld"/>
<polyline points="441.70,393.20 425.00,411.25" class="ld"/>
<polyline points="438.20,445.30 417.40,416.80" class="ld"/>
<polyline points="438.20,459.40 416.70,456.40" class="ld"/>
<polyline points="354.50,410.80 369.40,407.80 376.70,415.00" class="ld"/>
<polyline points="355.00,430.00 364.00,427.00" class="ld"/>
<polyline points="355.00,460.00 390.00,443.00" class="ld"/>
<polyline points="226.70,352.50 253.00,367.50" class="ld"/>
<polyline points="226.00,385.00 248.00,398.00" class="ld"/>
<polyline points="226.00,418.00 247.00,428.00" class="ld"/>
<polyline points="227.00,449.00 248.00,458.00" class="ld"/>
<polyline points="226.00,472.00 249.00,478.00" class="ld"/>
<polyline points="226.00,492.50 274.00,505.00" class="ld"/>
<polyline points="281.00,433.00 307.50,458.00" class="ld"/>
<polyline points="366.70,504.20 355.00,509.20" class="ld"/>
<polyline points="366.70,517.50 354.20,523.30" class="ld"/>
<polyline points="372.00,545.00 359.00,567.00" class="ld"/>
<polyline points="383.00,555.00 374.00,573.00" class="ld"/>
<polyline points="395.00,563.00 386.00,577.00" class="ld"/>
<polyline points="413.00,572.00 405.00,585.00" class="ld"/>
<polyline points="428.00,577.00 416.00,588.00" class="ld"/>
<polyline points="446.00,585.00 436.00,595.00" class="ld"/>
<polyline points="186.50,509.00 177.00,527.00" class="ld"/>
<polyline points="201.00,515.00 190.00,534.00" class="ld"/>
<polyline points="215.00,521.00 205.00,537.00" class="ld"/>
<polyline points="242.00,532.00 258.00,560.00" class="ld"/>
<polyline points="196.00,563.00 214.00,552.00" class="ld"/>
<polyline points="212.00,570.00 232.00,558.00" class="ld"/>
<polyline points="227.00,575.00 246.00,563.00" class="ld"/>
<polyline points="242.00,580.00 258.00,566.00" class="ld"/>
<polyline points="249.00,612.00 268.00,600.00" class="ld"/>
<polyline points="250.00,655.00 273.00,649.00" class="ld"/>
<polyline points="246.00,684.00 258.00,670.00" class="ld"/>
<polyline points="281.00,684.00 293.00,652.00" class="ld"/>
<polyline points="306.00,684.00 311.00,660.00" class="ld"/>
<polyline points="331.00,685.00 323.00,663.00" class="ld"/>
<polyline points="350.00,636.00 341.00,602.00" class="ld"/>
<polyline points="373.00,646.00 370.00,612.00" class="ld"/>
<polyline points="393.00,653.00 383.00,614.00" class="ld"/>
<polyline points="393.00,653.00 394.00,617.00" class="ld"/>
<polyline points="420.00,660.00 411.00,628.00" class="ld"/>
<polygon points="268.60,99.70 345.80,130.30 331.30,165.80 255.00,134.70" class="gr"/>
<polygon points="471.10,357.20 535.00,343.60 541.25,371.70 477.40,385.00" class="gr"/>
<polygon points="247.20,548.90 258.30,561.10 220.60,593.30 210.60,581.10" class="gr"/>
<polygon points="377.50,606.30 398.70,605.30 402.20,670.80 380.80,671.70" class="gr"/>
</svg>
</body></html>
